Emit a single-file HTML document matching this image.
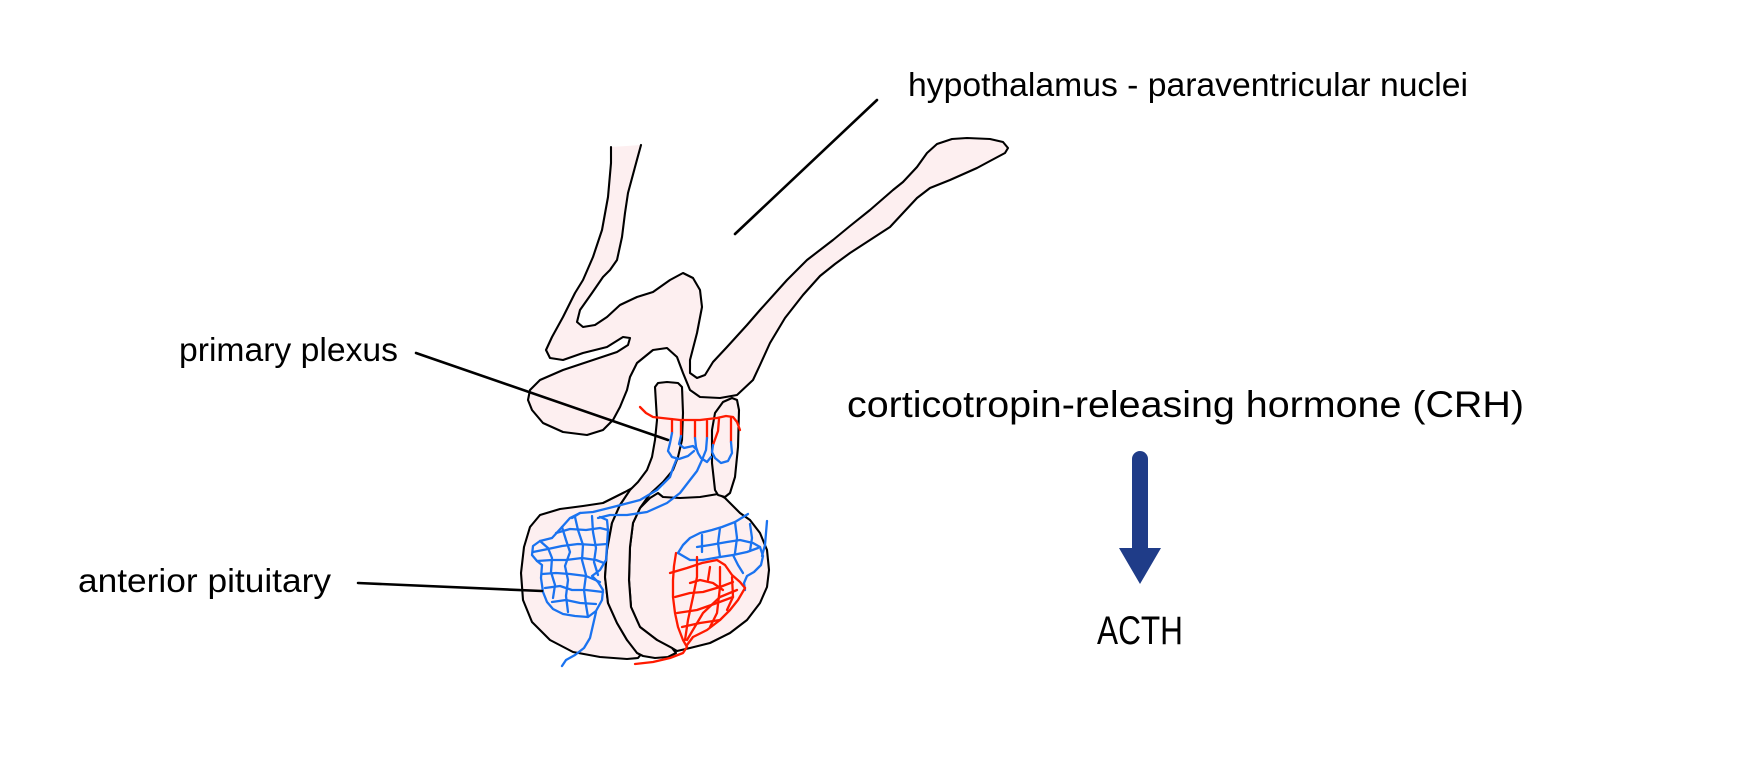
<!DOCTYPE html>
<html>
<head>
<meta charset="utf-8">
<style>
  html, body { margin: 0; padding: 0; background: #ffffff; }
  svg { display: block; }
  .lab { font-family: "Liberation Sans", sans-serif; fill: #000; }
</style>
</head>
<body>
<svg width="1747" height="779" viewBox="0 0 1747 779" xmlns="http://www.w3.org/2000/svg">
  <rect width="1747" height="779" fill="#ffffff"/>

  <g fill="#fdeff0" stroke="#000" stroke-width="2.1" stroke-linejoin="round" stroke-linecap="round">
    <!-- middle region between columns (fill only) -->
    <polygon stroke="none" points="683,390 700,397 720,398 737,395 739,410 735,477 725,497 700,497 663,497 663,482 673,470 678,457 682,440 683,413"/>

    <!-- posterior lobe -->
    <polygon points="658,493 663,497 680,498 700,497 712,495 718,494 725,498 730,503 740,513 750,520 760,533 767,550 769,570 767,587 760,603 747,620 730,633 710,643 690,648 677,651 672,648 657,640 640,627 631,607 629,580 630,547 633,523 640,508 650,498"/>

    <!-- anterior lobe -->
    <polygon points="634,487 625,492 617,496 603,503 583,506 560,509 540,515 530,527 524,547 521,573 523,600 532,622 550,640 573,652 600,657 627,659 638,658 642,653 637,648 627,640 617,623 608,603 605,577 607,550 612,523 620,505 630,491"/>

    <!-- left column + central strip -->
    <polygon points="655,387 658,383 667,382 678,383 682,387 683,413 682,440 678,457 673,470 663,482 650,494 640,508 633,523 630,547 629,580 631,607 640,627 657,640 672,648 676,653 668,657 655,658 643,656 637,653 627,640 617,623 608,603 605,577 607,550 612,523 620,505 630,490 638,482 647,470 652,457 655,440 657,420"/>

    <!-- right column -->
    <polygon points="715,490 712,463 712,430 715,413 723,402 732,398 737,400 739,410 738,447 735,477 730,493 725,497 718,495"/>

    <!-- hypothalamus / stalk / median eminence (open at top of stalk) -->
    <path d="M641,145 L635,167 L628,193 L625,213 L622,237 L617,260 L610,270 L603,277 L592,293 L580,310 L577,322 L583,327 L595,325 L607,317 L620,305 L637,297 L653,292 L670,280 L683,273 L693,278 L700,290 L702,307 L697,333 L690,360 L690,373 L697,378 L705,375 L713,362 L727,347 L747,325 L760,310 L787,280 L807,260 L833,240 L850,226 L870,210 L893,190 L903,182 L917,167 L927,153 L937,144 L952,139 L967,138 L990,139 L1003,142 L1008,148 L1005,153 L990,161 L977,168 L950,180 L930,188 L917,198 L903,213 L890,227 L870,240 L850,253 L835,264 L820,276 L803,295 L785,318 L770,343 L760,365 L753,380 L737,395 L720,398 L700,397 L690,390 L683,373 L677,357 L667,348 L653,350 L637,363 L630,377 L627,390 L620,407 L613,420 L603,430 L587,435 L563,432 L543,423 L532,410 L528,400 L530,390 L540,380 L563,370 L593,360 L617,352 L628,345 L630,338 L623,337 L607,347 L583,353 L563,360 L550,358 L546,350 L552,337 L563,317 L575,293 L583,280 L593,257 L602,230 L608,197 L611,163 L611,147"/>
  </g>

  <!-- vessels -->
  <g fill="none" stroke-width="2.3" stroke-linejoin="round" stroke-linecap="round">
    <!-- primary plexus red -->
    <g stroke="#ff1a00">
      <polyline points="640,407 646,413 653,417 662,418 680,420 700,420 717,418 726,416 733,417 737,422 740,430"/>
      <polyline points="672,419 672,433"/>
      <polyline points="681,421 681,436"/>
      <polyline points="695,421 695,438"/>
      <polyline points="707,421 707,438"/>
      <polyline points="719,419 718,431 713,445"/>
      <polyline points="731,418 731,442"/>
    </g>
    <!-- primary plexus blue + portal vessels -->
    <g stroke="#1a73f0">
      <polyline points="672,433 670,443 668,451 672,457 679,459 688,456 694,451"/>
      <polyline points="681,436 679,444 684,448 693,446 697,450"/>
      <polyline points="695,438 696,447 698,453 701,458 707,462 711,457"/>
      <polyline points="707,438 706,450 702,460"/>
      <polyline points="713,445 712,452 715,458 721,463 728,461 732,453 731,442"/>
      <polyline points="677,458 673,468 670,477 657,490 640,500 613,507 593,512 580,513 572,518"/>
      <polyline points="702,460 697,471 690,480 680,493 667,503 647,512 627,515 610,515 598,518"/>

      <!-- anterior (secondary) plexus -->
      <polyline points="580,513 570,518 562,527 552,538 540,541 533,546 532,555 537,561 542,565 541,578 543,592 547,602 553,609 563,614 575,616 588,617 596,611 602,600 603,590 598,582 592,576 600,570 606,560 607,545 608,530 607,520 600,517"/>
      <polyline points="562,527 566,540 570,552 565,566 568,580 566,596 568,612"/>
      <polyline points="575,517 578,530 583,545 582,560 586,575 584,590 586,605 588,617"/>
      <polyline points="592,516 593,532 596,548 594,562 598,575"/>
      <polyline points="540,541 548,548 552,558 551,572 555,585 553,598"/>
      <polyline points="533,552 548,549 562,546 578,544 594,545 607,544"/>
      <polyline points="537,561 552,560 566,560 582,558 596,560 604,563"/>
      <polyline points="542,574 556,573 570,574 586,576 600,582"/>
      <polyline points="545,588 560,586 572,590 586,590 603,592"/>
      <polyline points="552,602 566,600 580,603 596,604"/>
      <polyline points="556,533 570,529 586,530 600,528 608,530"/>
      <polyline points="596,612 593,625 590,638 584,648 575,655 566,660 562,666"/>

      <!-- posterior plexus blue part -->
      <polyline points="678,553 683,545 690,538 700,533 712,530 722,527 735,522 748,514"/>
      <polyline points="767,521 766,533 765,545 762,556"/>
      <polyline points="760,547 763,556 761,565 754,572 747,576 744,583 745,590"/>
      <polyline points="697,547 710,545 727,542 740,540 753,543 760,547"/>
      <polyline points="703,560 720,557 733,555 747,552 758,548"/>
      <polyline points="702,535 702,552"/>
      <polyline points="720,528 718,543 720,557"/>
      <polyline points="735,522 737,538 735,553"/>
      <polyline points="750,524 752,538 750,551"/>
      <polyline points="733,555 738,565 743,573"/>
      <polyline points="678,553 690,560 703,560"/>
    </g>
    <!-- posterior plexus red part -->
    <g stroke="#ff1a00">
      <polyline points="676,553 674,566 673,580 673,597 675,613 678,627 683,640 687,647 683,653 670,658 653,662 635,664"/>
      <polyline points="745,588 738,600 730,610 720,620 707,630 693,637 687,645"/>
      <polyline points="670,573 687,568 702,563 717,560 725,565 732,575 740,582 745,588"/>
      <polyline points="697,557 697,577 693,597 688,620 685,640"/>
      <polyline points="720,567 720,587 717,613 710,627"/>
      <polyline points="732,577 733,597 727,610"/>
      <polyline points="675,597 690,593 703,592 720,587 733,582"/>
      <polyline points="677,613 697,610 717,603 733,597"/>
      <polyline points="682,627 700,623 720,620"/>
      <polyline points="690,583 700,580 713,583 723,590"/>
      <polyline points="687,640 703,613 720,597 737,590"/>
      <polyline points="710,567 708,580"/>
    </g>
  </g>

  <!-- leader lines -->
  <g stroke="#000" stroke-width="2.6" stroke-linecap="round">
    <line x1="877" y1="100" x2="735" y2="234"/>
    <line x1="416" y1="353" x2="668" y2="440"/>
    <line x1="358" y1="583" x2="542" y2="591"/>
  </g>

  <!-- arrow -->
  <path d="M1132,459 A8,8 0 0 1 1148,459 L1148,548 L1161,548 L1140,584 L1119,548 L1132,548 Z" fill="#1f3c88"/>

  <!-- labels -->
  <text class="lab" x="908" y="96" font-size="33" textLength="560" lengthAdjust="spacingAndGlyphs">hypothalamus - paraventricular nuclei</text>
  <text class="lab" x="179" y="361" font-size="33" textLength="219" lengthAdjust="spacingAndGlyphs">primary plexus</text>
  <text class="lab" x="78" y="592" font-size="33" textLength="253" lengthAdjust="spacingAndGlyphs">anterior pituitary</text>
  <text class="lab" x="847" y="417" font-size="37" textLength="677" lengthAdjust="spacingAndGlyphs">corticotropin-releasing hormone (CRH)</text>
  <text class="lab" x="1097" y="644" font-size="40" textLength="86" lengthAdjust="spacingAndGlyphs">ACTH</text>
</svg>
</body>
</html>
